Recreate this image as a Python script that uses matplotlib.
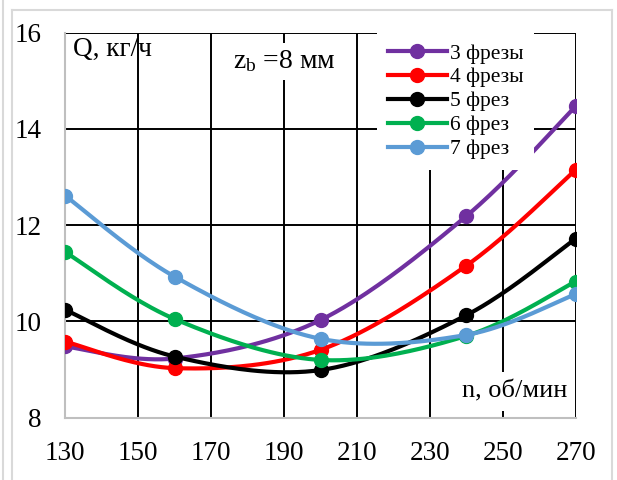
import numpy as np
import matplotlib
matplotlib.use("Agg")
import matplotlib.pyplot as plt
from matplotlib.lines import Line2D

plt.rcParams['font.family'] = ['Liberation Serif', 'DejaVu Serif']
plt.rcParams['mathtext.fontset'] = 'custom'
plt.rcParams['mathtext.rm'] = 'Liberation Serif'
plt.rcParams['mathtext.it'] = 'Liberation Serif:italic'

# Spindle speed, rpm
n_rpm = [130, 160, 200, 240, 270]

# Throughput Q, kg/h, for each number of cutters
q_3 = [9.48, 9.23, 10.03, 12.19, 14.47]
q_4 = [9.58, 9.03, 9.41, 11.16, 13.15]
q_5 = [10.24, 9.27, 8.99, 10.13, 11.72]
q_6 = [11.44, 10.05, 9.20, 9.70, 10.83]
q_7 = [12.61, 10.93, 9.64, 9.72, 10.57]

labels = ["3 фрезы", "4 фрезы", "5 фрез", "6 фрез", "7 фрез"]
colors = ["#7030A0", "#FF0000", "#000000", "#00B050", "#5B9BD5"]

x_ticks = [130, 150, 170, 190, 210, 230, 250, 270]
y_ticks = [8, 10, 12, 14, 16]


def smooth(xs, ys, steps=40):
    """Catmull-Rom style smoothing through every point (Bezier control points at 1/6)."""
    p = np.column_stack([xs, ys]).astype(float)
    ext = np.vstack([p[0], p, p[-1]])
    out = []
    t = np.linspace(0, 1, steps)[:, None]
    for i in range(len(p) - 1):
        p0, p1, p2, p3 = ext[i], ext[i + 1], ext[i + 2], ext[i + 3]
        c1 = p1 + (p2 - p0) / 6.0
        c2 = p2 - (p3 - p1) / 6.0
        seg = ((1 - t) ** 3) * p1 + 3 * ((1 - t) ** 2) * t * c1 + 3 * (1 - t) * t ** 2 * c2 + t ** 3 * p2
        out.append(seg if i == 0 else seg[1:])
    s = np.vstack(out)
    return s[:, 0], s[:, 1]


fig = plt.figure(figsize=(6.17, 4.80), dpi=100)
ax = fig.add_axes([65.3 / 617, 1 - 417.7 / 480, (575.7 - 65.3) / 617, (417.7 - 32.7) / 480])

# outer frame
frame_c = "#D9D9D9"
W, H = 617.0, 480.0
for (x0, y0, x1, y1) in [(3, 0, 3, 480), (12, 10, 12, 480), (12, 10, 612, 10), (612, 10, 612, 480)]:
    fig.add_artist(Line2D([x0 / W, x1 / W], [1 - y0 / H, 1 - y1 / H], color=frame_c, lw=1.5))

ax.set_xlim(130, 270)
ax.set_ylim(8, 16)
ax.set_xticks(x_ticks)
ax.set_yticks(y_ticks)
ax.grid(True, color="black", lw=1.4, zorder=0)
ax.set_axisbelow(True)
ax.tick_params(length=0, labelsize=19.5)
ax.tick_params(axis='y', pad=17)
ax.tick_params(axis='x', pad=17)
for s in ["top", "right"]:
    ax.spines[s].set_visible(False)
for s in ["left", "bottom"]:
    ax.spines[s].set_color("#BFBFBF")
    ax.spines[s].set_linewidth(1.5)

series = [q_3, q_4, q_5, q_6, q_7]
handles = []
for ys, c, lab in zip(series, colors, labels):
    sx, sy = smooth(n_rpm, ys)
    ax.plot(sx, sy, color=c, lw=3, zorder=3, solid_capstyle='round')
    ax.plot(n_rpm, ys, 'o', color=c, ms=10, zorder=3)
    handles.append(Line2D([], [], color=c, lw=3, marker='o', ms=10))

leg = ax.legend(handles, labels, loc="upper left", bbox_to_anchor=((377 - 65.3) / 510.4, 1.0),
                frameon=True, fancybox=False, fontsize=15.5, handlelength=2.75,
                handletextpad=0.12, labelspacing=0.18, borderpad=0.5, borderaxespad=0)
leg.get_frame().set_facecolor("white")
leg.get_frame().set_edgecolor("none")
leg.get_frame().set_alpha(1)
leg.set_zorder(5)

ax.text(0.015, 0.99, "Q, кг/ч", transform=ax.transAxes, fontsize=19.5, ha="left", va="top", zorder=6)
ax.text(0.328, 0.925, r"z$_\mathrm{b}$ =8 мм", transform=ax.transAxes, fontsize=20, ha="left",
        va="center", zorder=6,
        bbox=dict(facecolor="white", edgecolor="none", pad=4))
ax.text(0.983, 0.067, "n, об/мин", transform=ax.transAxes, fontsize=19, ha="right",
        va="center", zorder=6,
        bbox=dict(facecolor="white", edgecolor="none", pad=6))

fig.savefig("out.png", dpi=100)
